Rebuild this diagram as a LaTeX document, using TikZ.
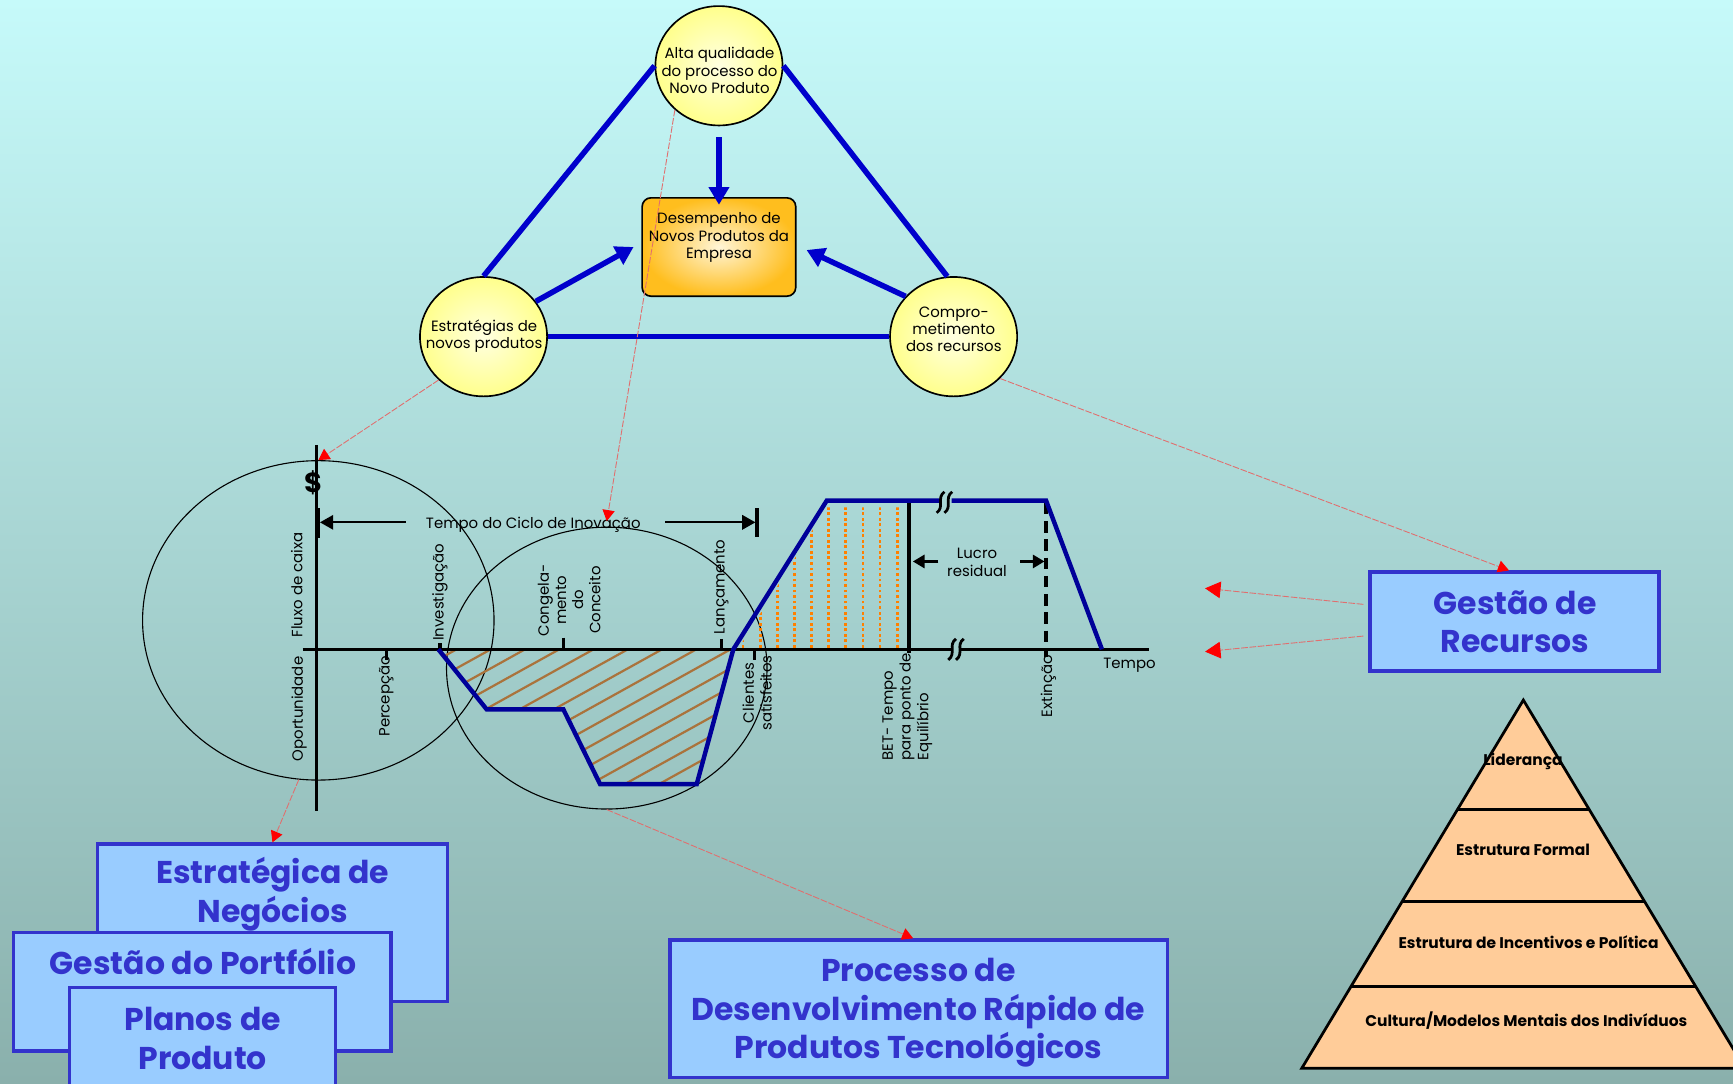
\documentclass[tikz,border=0pt]{standalone}
\usepackage{fontspec}
\setmainfont{Poppins}
\usetikzlibrary{arrows.meta,shapes.geometric,calc}

\definecolor{bgtop}{RGB}{198,250,250}
\definecolor{bgbot}{RGB}{138,176,172}
\definecolor{tblue}{RGB}{0,0,204}
\definecolor{navy}{RGB}{0,0,153}
\definecolor{hatchc}{RGB}{170,115,60}
\definecolor{dotor}{RGB}{255,128,0}
\definecolor{boxfill}{RGB}{153,204,255}
\definecolor{boxline}{RGB}{51,51,204}
\definecolor{pyr}{RGB}{255,204,153}
\definecolor{redln}{RGB}{225,110,110}
\definecolor{yelin}{RGB}{255,255,225}
\definecolor{yelout}{RGB}{255,255,140}
\definecolor{orin}{RGB}{255,245,215}
\definecolor{orout}{RGB}{255,190,30}

\tikzset{
  bubble/.style={ellipse, draw=black, line width=1.5pt, inner sep=0pt,
    minimum width=115pt, minimum height=108pt, inner color=yelin, outer color=yelout},
  bubtext/.style={align=center, inner sep=0pt, font=\fontsize{13.5}{15.7}\selectfont},
  perfbox/.style={draw=black, line width=1.5pt, rounded corners=8pt, inner sep=0pt,
    minimum width=139pt, minimum height=89pt, inner color=orin, outer color=orout},
  triline/.style={draw=tblue, line width=5pt},
  triarrow/.style={draw=tblue, line width=5pt, -{Triangle[length=16pt,width=18pt]}},
  redarr/.style={draw=redln, line width=0.8pt, dash pattern=on 6pt off 1.5pt,
    -{Triangle[length=10pt,width=11pt,color=red]}},
  redarrbig/.style={draw=redln, line width=0.8pt, dash pattern=on 6pt off 1.5pt,
    -{Triangle[length=14pt,width=15pt,color=red]}},
  bigell/.style={ellipse, draw=black, line width=1pt, inner sep=0pt},
  axisline/.style={draw=black, line width=3pt},
  ticks/.style={draw=black, line width=3pt},
  blkarrow/.style={draw=black, line width=2pt, -{Triangle[length=12pt,width=13pt]}},
  curveline/.style={draw=navy, line width=4pt},
  hatchline/.style={draw=hatchc, line width=2pt},
  dotline/.style={draw=dotor, line width=2.5pt, dash pattern=on 2.5pt off 2.5pt},
  brk/.style={draw=black, line width=2.5pt},
  chartlbl/.style={inner sep=0pt, font=\fontsize{13.5}{16}\selectfont},
  bluebox/.style={draw=boxline, line width=3pt, fill=boxfill, inner sep=0pt},
  boxtext/.style={align=center, inner sep=0pt, text=boxline,
    font=\bfseries\fontsize{28.5}{34.6}\selectfont},
  pyrstyle/.style={draw=black, line width=2.5pt, fill=pyr, line join=miter},
  pyrtext/.style={inner sep=0pt, font=\bfseries\fontsize{14}{16}\selectfont}
}

\begin{document}
\begin{tikzpicture}[x=1pt,y=-1pt]
\useasboundingbox (0,0) rectangle (1568,980);
\shade[top color=bgtop, bottom color=bgbot] (0,0) rectangle (1568,980);
\begin{scope}
\clip (0,0) rectangle (1568,980);

% ---------- triangle ----------
\node[bubble] (q) at (650.5,59.5) {};
\node[bubble] (s) at (437.5,304.6) {};
\node[bubble] (r) at (862.8,304.6) {};
\node[perfbox] (d) at (650.5,223.5) {};
\node[bubtext] (qt) at (651,64) {Alta qualidade\\do processo do\\Novo Produto};
\node[bubtext] (st) at (438,304) {Estratégias de\\novos produtos};
\node[bubtext] (rt) at (863,298) {Compro-\\metimento\\dos recursos};
\node[bubtext] (dt) at (650.5,215) {Desempenho de\\Novos Produtos da\\Empresa};

\draw[triline] (q.west) -- (s.north);
\draw[triline] (q.east) -- (r.96);
\draw[triline] (s.east) -- (r.west);
\draw[triarrow] ($(q.south)+(0,10)$) -- ($(d.north)+(0,7)$);
\draw[triarrow] (s.34) -- ($(d.west)+(-7,0)$);
\draw[triarrow] (r.140) -- ($(d.east)+(9,2.7)$);

% ---------- chart ----------
\node[bigell, minimum width=318pt, minimum height=289pt] (e1) at (288,561.3) {};
\node[bigell, minimum width=290pt, minimum height=255pt] (e2) at (549,604.5) {};

% hatch
\begin{scope}
\clip (396.6,587.5) -- (440.3,641.8) -- (509.7,641.8) -- (542.9,709.4) -- (630.4,709.4) -- (663.5,587.5) -- cycle;
\foreach \k in {-3,...,13} \draw[hatchline] ({475+31*\k+62},553.1) -- ++(-400,222);
\end{scope}
% orange dotted
\begin{scope}
\clip (667.6,587.5) -- (748,459) -- (822,459) -- (822,587.5) -- cycle;
\foreach \k in {0,...,9} \draw[dotline] ({672.3+15.5*\k},586) -- ++(0,-140);
\end{scope}

% axes
\draw[axisline] (286.5,402.6) -- (286.5,734);
\draw[axisline] (273.9,587.5) -- (861,587.5);
\draw[axisline] (868.5,587.5) -- (1040,587.5);
% ticks
\draw[ticks] (288.3,459.7) -- (288.3,486.8);
\draw[ticks] (685,459.9) -- (685,485.6);
\draw[ticks] (349.6,587.5) -- (349.6,597);
\draw[ticks] (398,582) -- (398,587.5);
\draw[ticks] (510,577) -- (510,587.5);
\draw[ticks] (652.6,578) -- (652.6,587.5);
\draw[ticks] (682.5,587.5) -- (682.5,597);
\draw[ticks] (822.5,453) -- (822.5,591);
\draw[ticks, dash pattern=on 10.5pt off 6pt] (946.5,455) -- (946.5,594);

% curve
\draw[curveline] (396.6,587.5) -- (440.3,641.8) -- (509.7,641.8) -- (542.9,709.4) -- (630.4,709.4) -- (663.5,587.5) -- (748,453) -- (850,453);
\draw[curveline] (861,453) -- (946.5,453) -- (997,587.5);

% break marks
\foreach \bx/\by in {851/454.5, 858/454.5, 861.5/587.5, 868.5/587.5}
  \draw[brk] (\bx+3.5,\by-9.5) .. controls (\bx-4,\by-4) and (\bx+4,\by+4) .. (\bx-3.5,\by+9.5);

% labels
\node[inner sep=0pt, font=\bfseries\fontsize{25}{25}\selectfont] (dol) at (283.5,436.7) {\$};
\node[chartlbl] (tc) at (482.5,475) {Tempo do Ciclo de Inovação};
\coordinate (tl) at (289.5,472.6);
\coordinate (tr) at (683.5,472.6);
\draw[blkarrow] (367.3,472.6) -- (tl);
\draw[blkarrow] (601.8,472.6) -- (tr);
\node[chartlbl, rotate=90] (fx) at (268.4,529.3) {Fluxo de caixa};
\node[chartlbl, rotate=90] (op) at (270.6,641.5) {Oportunidade};
\node[chartlbl, rotate=90] (pc) at (349.5,630) {Percepção};
\node[chartlbl, rotate=90] (iv) at (398,536) {Investigação};
\node[chartlbl, rotate=90, align=center, font=\fontsize{13.5}{15.5}\selectfont] (cg) at (515,543) {Congela-\\mento\\do\\Conceito};
\node[chartlbl, rotate=90] (lc) at (652.6,531) {Lançamento};
\node[chartlbl, rotate=90, align=center] (cs) at (685,627) {Clientes\\satisfeitos};
\node[chartlbl, rotate=90, align=left, anchor=west] (bt) at (821,688) {BET- Tempo\\para ponto de\\Equilíbrio};
\node[chartlbl, rotate=90] (ex) at (948.5,620.7) {Extinção};
\node[chartlbl] (tp) at (1022,601.7) {Tempo};
\node[chartlbl, align=center] (lr) at (884,509) {Lucro\\residual};
\coordinate (lra) at (826,508);
\coordinate (lrb) at (945,508);
\draw[blkarrow, -{Triangle[length=10.5pt,width=12pt]}] (849,508) -- (lra);
\draw[blkarrow, -{Triangle[length=10.5pt,width=12pt]}] (923,508) -- (lrb);

% ---------- boxes ----------
\node[bluebox, minimum width=316.3pt, minimum height=142.7pt] (en) at (246.5,835) {};
\node[bluebox, minimum width=341.8pt, minimum height=107.1pt] (gp) at (182.9,897.5) {};
\node[bluebox, minimum width=241pt, minimum height=110pt] (pl) at (183.2,948.7) {};
\node[bluebox, minimum width=450pt, minimum height=124.3pt] (pr) at (831.2,912.6) {};
\node[bluebox, minimum width=261.4pt, minimum height=89.4pt] (gr) at (1370.3,562.3) {};
\node[boxtext] (ent) at (246.7,809) {Estratégica de\\Negócios};
\node[boxtext, anchor=base] (gpt) at (183.7,882) {Gestão do Portfólio};
\node[boxtext] (plt) at (183.4,939.5) {Planos de\\Produto};
\node[boxtext] (prt) at (831,916.3) {Processo de\\Desenvolvimento Rápido de\\Produtos Tecnológicos};
\node[boxtext] (grt) at (1370.8,562.3) {Gestão de\\Recursos};

% ---------- pyramid ----------
\draw[pyrstyle] (1378.3,633.4) -- (1177.8,966.6) -- (1578.8,966.6) -- cycle;
\draw[pyrstyle] (1318.8,732.3) -- (1437.8,732.3);
\draw[pyrstyle] (1268.5,815.8) -- (1488.1,815.8);
\draw[pyrstyle] (1222.2,892.8) -- (1534.4,892.8);
\node[pyrtext] (p1) at (1378,689) {Liderança};
\node[pyrtext] (p2) at (1378,769) {Estrutura Formal};
\node[pyrtext] (p3) at (1383,852) {Estrutura de Incentivos e Política};
\node[pyrtext] (p4) at (1381,923) {Cultura/Modelos Mentais dos Indivíduos};

% ---------- red connectors ----------
\coordinate (c1) at (1090.3,532.3);
\coordinate (c2) at (1090.3,589.6);
\draw[redarr] (s.224) -- (e1.north);
\draw[redarr] (q.225) -- ($(e2.north)+(0,-5)$);
\draw[redarr] (r.-42) -- ($(gr.north)+(-5,0)$);
\draw[redarr] (e1.263) -- (en.north);
\draw[redarr] (e2.south) -- ($(pr.north)+(-5,0)$);
\draw[redarrbig] ($(gr.west)+(-4.6,-15.5)$) -- (c1);
\draw[redarrbig] ($(gr.west)+(-4.6,13.2)$) -- (c2);
\end{scope}
\end{tikzpicture}
\end{document}
